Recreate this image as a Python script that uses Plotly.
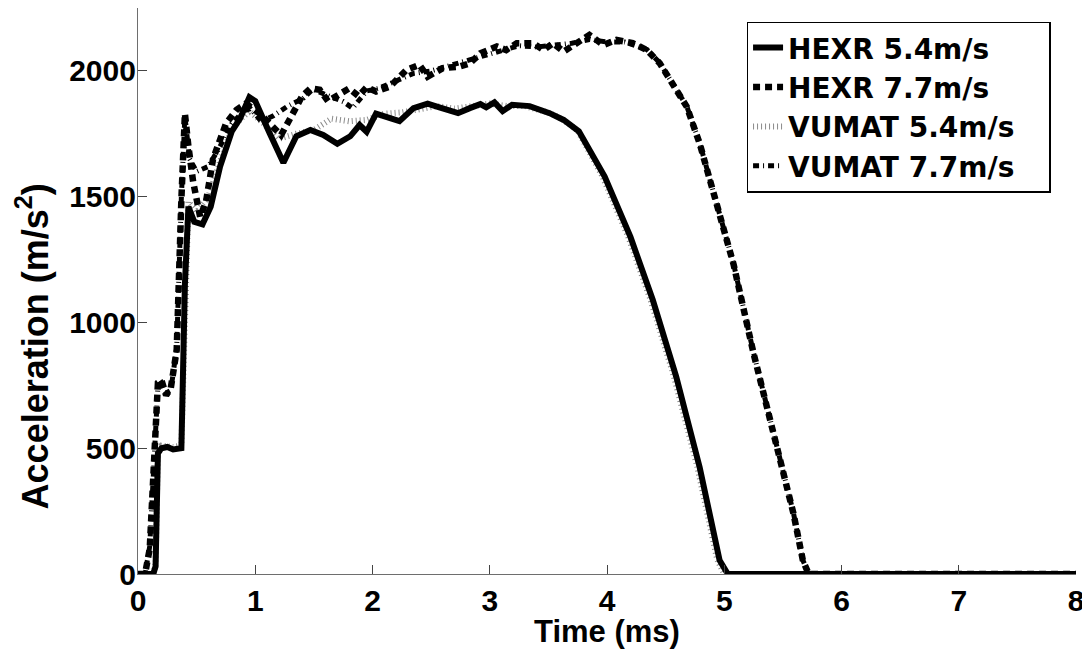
import plotly.graph_objects as go

# ---- data ----
t_hexr54 = [0, 0.13, 0.15, 0.17, 0.2, 0.25, 0.3, 0.37, 0.40, 0.43,
            0.48, 0.55, 0.62, 0.70, 0.80, 0.87, 0.95, 1.0, 1.12, 1.24,
            1.35, 1.47, 1.58, 1.70, 1.81, 1.89, 1.95, 2.03, 2.15, 2.23,
            2.35, 2.47, 2.57, 2.73, 2.83, 2.92, 2.97, 3.04, 3.11, 3.19,
            3.34, 3.51, 3.63, 3.76, 3.98, 4.20, 4.39, 4.59, 4.79, 4.96,
            5.03, 6.0, 7.0, 8.0]
a_hexr54 = [0, 0, 30, 480, 500, 505, 495, 500, 1150, 1460,
            1400, 1390, 1460, 1620, 1760, 1810, 1895, 1880, 1755, 1635,
            1740, 1765, 1745, 1710, 1740, 1785, 1758, 1830, 1812, 1800,
            1852, 1870, 1855, 1832, 1852, 1868, 1855, 1875, 1840, 1865,
            1860, 1832, 1805, 1760, 1580, 1340, 1090, 785, 425, 55,
            0, 0, 0, 0]

t_hexr77 = [0, 0.06, 0.10, 0.14, 0.17, 0.20, 0.24, 0.28, 0.33, 0.37,
            0.40, 0.43, 0.47, 0.53, 0.58, 0.64, 0.75, 0.84, 0.92, 1.04,
            1.14, 1.22, 1.32, 1.40, 1.47, 1.55, 1.62, 1.70, 1.80, 1.88,
            1.95, 2.03, 2.15, 2.29, 2.40, 2.47, 2.60, 2.74, 2.83, 2.92,
            3.06, 3.14, 3.23, 3.37, 3.46, 3.54, 3.63, 3.74, 3.85, 3.97,
            4.08, 4.22, 4.34, 4.45, 4.56, 4.68, 4.79, 4.93, 5.08, 5.25,
            5.42, 5.59, 5.67, 5.72, 8.0]
a_hexr77 = [0, 0, 100, 500, 760, 770, 710, 740, 890, 1490,
            1830, 1700, 1560, 1420, 1480, 1650, 1790, 1845, 1870, 1830,
            1780, 1745, 1830, 1900, 1930, 1925, 1880, 1905, 1930, 1900,
            1935, 1918, 1938, 2004, 2024, 1977, 2011, 2017, 2030, 2070,
            2097, 2083, 2110, 2110, 2083, 2110, 2077, 2110, 2143, 2103,
            2123, 2110, 2083, 2030, 1951, 1858, 1712, 1480, 1230, 877,
            559, 241, 55, 0, 0]

t_vumat54 = [0, 0.13, 0.15, 0.17, 0.2, 0.3, 0.37, 0.40, 0.43, 0.5,
             0.6, 0.7, 0.8, 0.88, 0.95, 1.05, 1.2, 1.35, 1.5, 1.65,
             1.8, 1.95, 2.1, 2.25, 2.4, 2.55, 2.7, 2.85, 3.0, 3.15,
             3.3, 3.5, 3.62, 3.75, 3.96, 4.18, 4.37, 4.57, 4.77, 4.94,
             5.0, 8.0]
a_vumat54 = [0, 0, 40, 490, 510, 505, 510, 1050, 1480, 1440,
             1500, 1640, 1770, 1810, 1840, 1800, 1730, 1750, 1765, 1810,
             1800, 1805, 1830, 1835, 1850, 1860, 1850, 1860, 1870, 1860,
             1860, 1835, 1808, 1762, 1582, 1342, 1092, 787, 427, 57,
             0, 0]

t_vumat77 = [0, 0.06, 0.10, 0.14, 0.17, 0.20, 0.24, 0.28, 0.33, 0.37,
             0.40, 0.44, 0.50, 0.60, 0.70, 0.80, 0.90, 0.96, 1.05, 1.15,
             1.27, 1.41, 1.49, 1.64, 1.75, 1.83, 1.95, 2.05, 2.2, 2.35,
             2.5, 2.65, 2.8, 2.95, 3.1, 3.25, 3.4, 3.55, 3.7, 3.85,
             4.0, 4.15, 4.34, 4.45, 4.56, 4.68, 4.79, 4.93, 5.08, 5.25,
             5.42, 5.59, 5.67, 5.72, 8.0]
a_vumat77 = [0, 0, 110, 510, 750, 760, 720, 730, 900, 1500,
             1820, 1650, 1600, 1620, 1700, 1790, 1840, 1850, 1800, 1820,
             1858, 1891, 1927, 1898, 1878, 1852, 1920, 1930, 1960, 1990,
             2000, 2020, 2040, 2060, 2080, 2100, 2095, 2105, 2110, 2125,
             2115, 2115, 2085, 2032, 1953, 1860, 1714, 1482, 1232, 879,
             561, 243, 56, 0, 0]

x_ticks = [0, 1, 2, 3, 4, 5, 6, 7, 8]
y_ticks = [0, 500, 1000, 1500, 2000]

FONT = "Arial, Liberation Sans, Helvetica, sans-serif"
LEGEND_FONT = "DejaVu Sans, Arial, sans-serif"
PAD = "&nbsp;&nbsp;&nbsp;"  # MATLAB-style extra room on the right of the legend

fig = go.Figure()

fig.add_trace(go.Scatter(
    x=t_vumat54, y=a_vumat54, mode="lines", name="VUMAT 5.4m/s" + PAD,
    line=dict(color="#8a8a8a", width=6, dash="1px,3px"), legendrank=3))
fig.add_trace(go.Scatter(
    x=t_vumat77, y=a_vumat77, mode="lines", name="VUMAT 7.7m/s" + PAD,
    line=dict(color="black", width=5, dash="6px,4px,1px,4px"), legendrank=4))
fig.add_trace(go.Scatter(
    x=t_hexr77, y=a_hexr77, mode="lines", name="HEXR 7.7m/s",
    line=dict(color="black", width=6.5, dash="7px,5px"), legendrank=2))
fig.add_trace(go.Scatter(
    x=t_hexr54, y=a_hexr54, mode="lines", name="HEXR 5.4m/s",
    line=dict(color="black", width=6), legendrank=1))

# the page body has an 8px margin, so the figure is drawn 8px right/down
fig.update_layout(
    width=1090, height=651,
    margin=dict(l=130, r=22, t=0, b=85, autoexpand=False),
    paper_bgcolor="white", plot_bgcolor="white",
    font=dict(family=FONT, color="black"),
    showlegend=True,
    legend=dict(
        x=0.649, y=0.976, xanchor="left", yanchor="top",
        bgcolor="white", bordercolor="black", borderwidth=1.3,
        font=dict(size=28, family=LEGEND_FONT, weight="bold"),
        traceorder="normal", itemwidth=30,
    ),
    xaxis=dict(
        range=[0, 8], tickvals=x_ticks, ticktext=[str(v) for v in x_ticks],
        automargin=False,
        showgrid=False, zeroline=False, showline=True, linecolor="#6e6e6e", linewidth=1.2,
        ticks="inside", ticklen=9, tickcolor="#444", tickwidth=1,
        tickfont=dict(size=30, family=FONT, weight="bold"),
    ),
    yaxis=dict(
        range=[0, 2250], tickvals=y_ticks, ticktext=[str(v) for v in y_ticks],
        automargin=False, ticklabelstandoff=-5,
        showgrid=False, zeroline=False, showline=True, linecolor="#6e6e6e", linewidth=1.2,
        ticks="inside", ticklen=9, tickcolor="#444", tickwidth=1,
        tickfont=dict(size=30, family=FONT, weight="bold"),
    ),
    annotations=[
        dict(text="<b>Time (ms)</b>", xref="paper", yref="paper",
             x=0.5, y=-0.102, xanchor="center", yanchor="middle",
             showarrow=False, font=dict(size=31, family=FONT)),
        dict(text="<b>Acceleration (m/s<sup>2</sup>)</b>", xref="paper", yref="paper",
             x=-0.112, y=0.402, xanchor="center", yanchor="middle", textangle=-90,
             showarrow=False, font=dict(size=36, family=FONT)),
    ],
)

fig.write_html("out.html")
